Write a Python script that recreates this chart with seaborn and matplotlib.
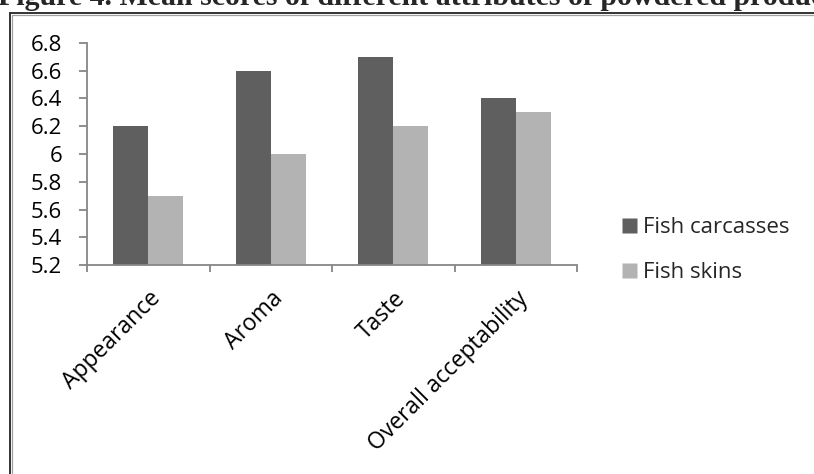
import matplotlib
matplotlib.use("Agg")
import matplotlib.pyplot as plt
import matplotlib.transforms as mtransforms
import seaborn as sns
import pandas as pd
from matplotlib.lines import Line2D

attributes = ["Appearance", "Aroma", "Taste", "Overall acceptability"]
fish_carcasses = [6.2, 6.6, 6.7, 6.4]
fish_skins = [5.7, 6.0, 6.2, 6.3]
series_names = ["Fish carcasses", "Fish skins"]
y_ticks = [5.2, 5.4, 5.6, 5.8, 6.0, 6.2, 6.4, 6.6, 6.8]
y_tick_labels = ["5.2", "5.4", "5.6", "5.8", "6", "6.2", "6.4", "6.6", "6.8"]
caption = "Figure 4. Mean scores of different attributes of powdered products"

df = pd.DataFrame({
    "attribute": attributes * 2,
    "score": fish_carcasses + fish_skins,
    "series": [series_names[0]] * 4 + [series_names[1]] * 4,
})

sns.set_theme(style="white")
plt.rcParams["font.family"] = ["Open Sans", "DejaVu Sans"]

FS = 16

fig = plt.figure(figsize=(8.14, 4.74), dpi=100)
ax = fig.add_axes([0.1069, 0.4409, 0.6020, 0.4684])

palette = {series_names[0]: "#5f5f5f", series_names[1]: "#b3b3b3"}
sns.barplot(data=df, x="attribute", y="score", hue="series", palette=palette,
            width=0.57, saturation=1, ax=ax, legend=False, gap=0)

# bars start at the axis floor
for bar in ax.patches:
    y0 = bar.get_y()
    h = bar.get_height()
    bar.set_y(5.2)
    bar.set_height(y0 + h - 5.2)
    bar.set_edgecolor("none")

ax.set_ylim(5.2, 6.8)
ax.set_xlim(-0.5, 3.5)
ax.set_yticks(y_ticks)
ax.set_yticklabels(y_tick_labels, fontsize=FS, color="black")
ax.set_xticks(range(len(attributes)))
ax.set_xticklabels(attributes, rotation=45, ha="right", rotation_mode="anchor",
                   fontsize=16.5, color="black")
ax.set_xlabel("")
ax.set_ylabel("")

# nudge the slanted category labels slightly left
shift = mtransforms.ScaledTranslation(-5 / 100, 0, fig.dpi_scale_trans)
for lbl in ax.get_xticklabels():
    lbl.set_transform(lbl.get_transform() + shift)

for side in ["top", "right"]:
    ax.spines[side].set_visible(False)
for side in ["left", "bottom"]:
    ax.spines[side].set_color("#868686")
    ax.spines[side].set_linewidth(1.3)

ax.tick_params(axis="y", which="major", direction="out", length=5.5,
               width=1.3, color="#868686", left=True, pad=12.5)
ax.tick_params(axis="x", which="major", length=0, pad=15.5)

# category separator ticks below the x axis
ax.set_xticks([-0.5, 0.5, 1.5, 2.5, 3.5], minor=True)
ax.tick_params(axis="x", which="minor", direction="out", length=5,
               width=1.3, color="#868686", bottom=True)

handles = [Line2D([], [], marker="s", linestyle="none", markersize=10.8,
                  markerfacecolor=palette[s], markeredgecolor="none")
           for s in series_names]
fig.legend(handles, series_names, loc="center left",
           bbox_to_anchor=(0.764, 0.4726), frameon=False, fontsize=FS,
           handlelength=0.68, handletextpad=0.25, labelspacing=1.1,
           borderpad=0, borderaxespad=0)

# caption above the chart frame
fig.text(-0.002, 0.990, caption, fontsize=21.5, fontweight="bold",
         family="Liberation Serif", ha="left", va="baseline")

# chart frame (dark edge with a soft grey inner line)
fx, fy = 0.0125, 0.972
fig.add_artist(Line2D([fx, 1.0], [fy, fy], color="#333333",
                      linewidth=1.4, transform=fig.transFigure))
fig.add_artist(Line2D([fx, fx], [0.0, fy], color="#333333",
                      linewidth=1.4, transform=fig.transFigure))
fig.add_artist(Line2D([fx + 0.0025, 1.0], [fy - 0.0042, fy - 0.0042],
                      color="#a0a0a0", linewidth=0.9, transform=fig.transFigure))
fig.add_artist(Line2D([fx + 0.0025, fx + 0.0025], [0.0, fy - 0.0042],
                      color="#a0a0a0", linewidth=0.9, transform=fig.transFigure))

fig.savefig("out.png", dpi=100)
